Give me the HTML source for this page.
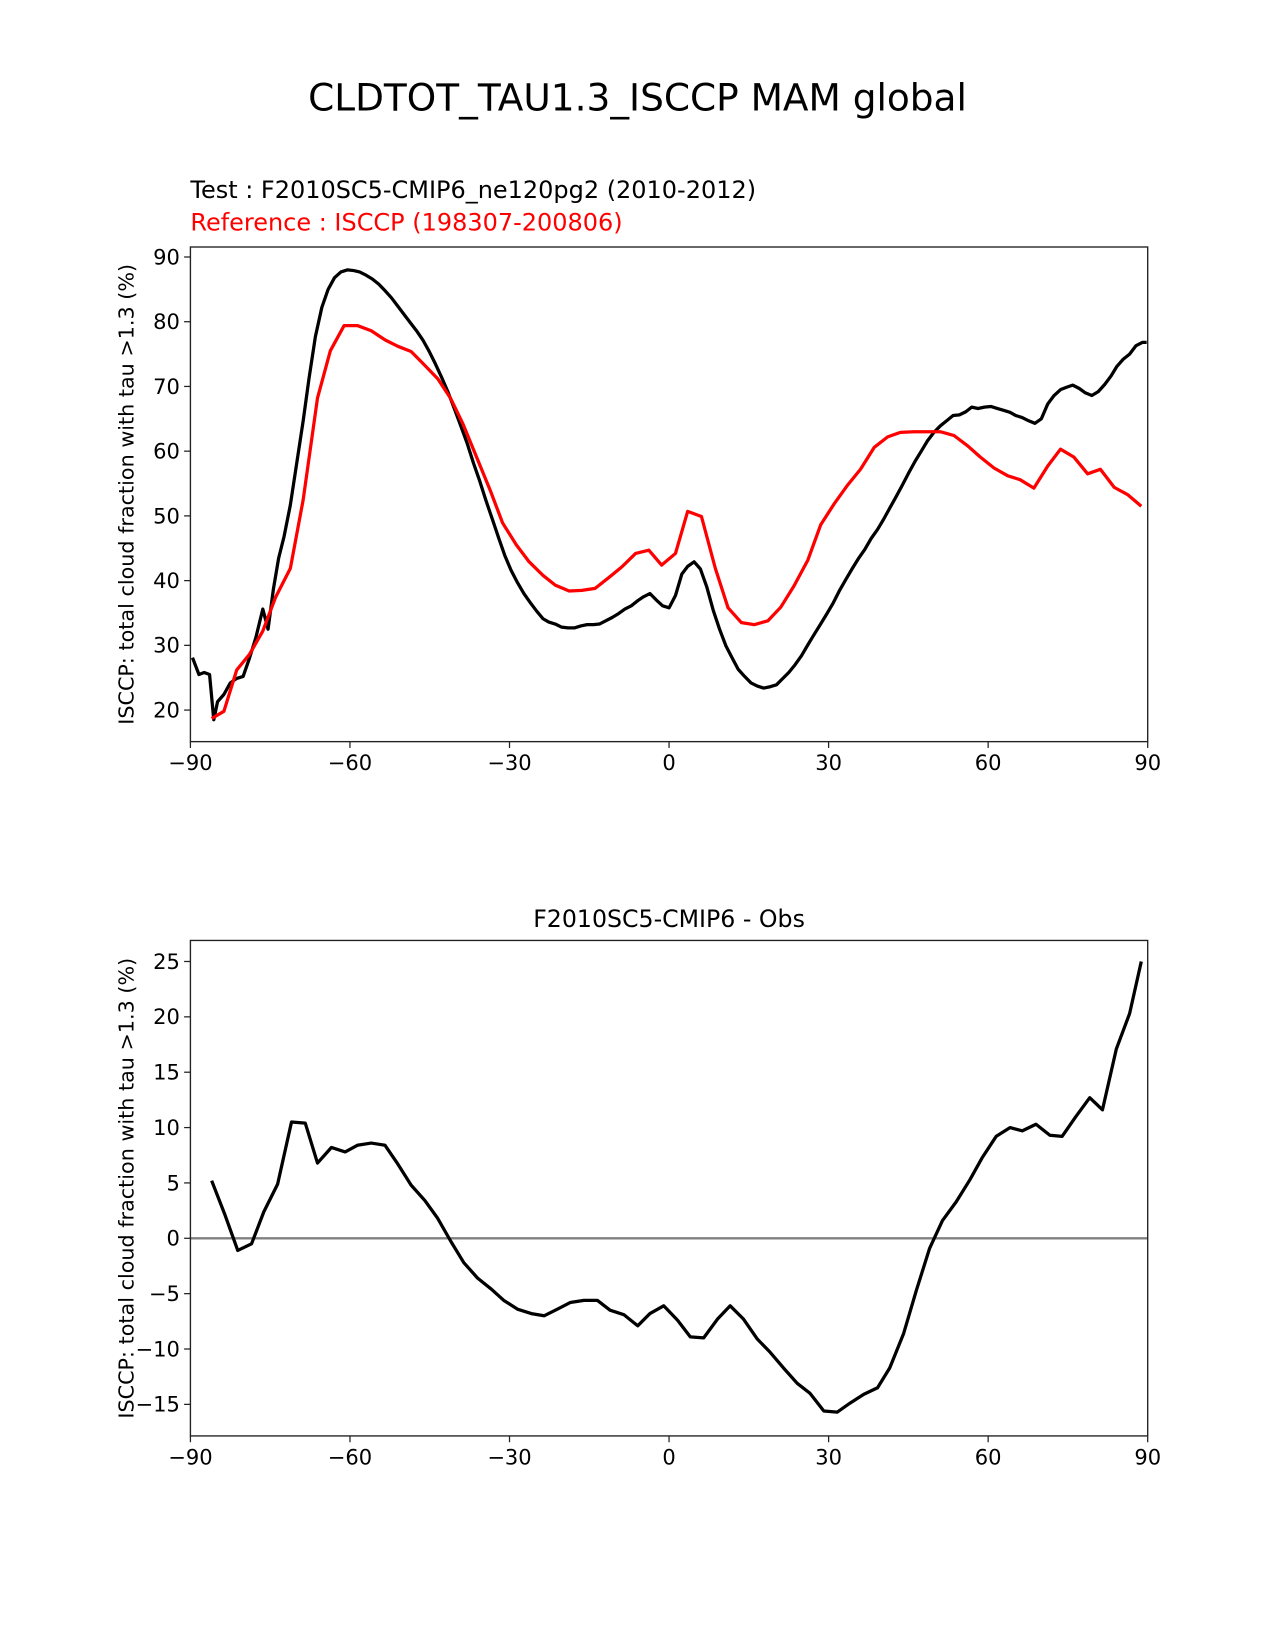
<!DOCTYPE html>
<html><head><meta charset="utf-8"><style>
html,body{margin:0;padding:0;background:#fff}
svg{display:block}
text{font-family:"DejaVu Sans","Liberation Sans",sans-serif}
</style></head><body>
<svg id="fig" xmlns="http://www.w3.org/2000/svg" width="1275" height="1650" viewBox="0 0 1212 1568.5">
<rect width="1212" height="1568.5" fill="#fff"/>
<text x="606" y="105" font-size="35.6" text-anchor="middle">CLDTOT_TAU1.3_ISCCP MAM global</text>
<text x="181" y="188" font-size="22.8">Test : F2010SC5-CMIP6_ne120pg2 (2010-2012)</text>
<text x="181" y="219" font-size="22.8" fill="#ff0000">Reference : ISCCP (198307-200806)</text>
<text x="636" y="881" font-size="22.5" text-anchor="middle">F2010SC5-CMIP6 - Obs</text>
<g id="top"></g>
<g id="bot"></g>
</svg>
<script>
const testLat=[-89.6,-88.4,-87.4,-86.4,-85.6,-84.9,-83.7,-82.5,-81.3,-80.1,-78.9,-77.7,-76.4,-75.4,-74.4,-73.4,-72.4,-71.2,-70,-68.8,-67.7,-66.5,-65.3,-64.1,-62.9,-61.7,-60.5,-59.3,-58.2,-57,-55.8,-54.6,-53.4,-52.2,-51,-49.8,-48.7,-47.5,-46.3,-45.1,-43.9,-42.7,-41.5,-40.4,-39.2,-38,-36.8,-35.6,-34.4,-33.2,-32,-30.9,-29.7,-28.5,-27.3,-26.1,-24.9,-23.7,-22.6,-21.4,-20.2,-19,-17.8,-16.6,-15.4,-14.2,-13.1,-11.9,-10.7,-9.5,-8.3,-7.1,-5.9,-4.8,-3.6,-2.4,-1.2,0,1.2,2.4,3.5,4.7,5.9,7.1,8.3,9.5,10.7,11.9,13,14.2,15.4,16.6,17.8,19,20.2,21.4,22.5,23.7,24.9,26.1,27.3,28.5,29.7,30.9,32,33.2,34.4,35.6,36.8,38,39.2,40.3,41.5,42.7,43.9,45.1,46.3,47.5,48.6,49.8,51,52.2,53.4,54.6,55.8,56.9,58.1,59.3,60.5,61.7,62.9,64.1,65.2,66.4,67.6,68.8,70,71.2,72.4,73.6,74.8,75.9,77.1,78.3,79.5,80.7,81.9,83.1,84.2,85.4,86.6,87.8,89,89.8];
const testVal=[28.1,25.5,25.8,25.5,18.5,21.3,22.4,24.2,24.9,25.2,28,31.2,35.6,32.5,38.7,43.5,46.8,51.7,58.2,64.7,71.2,77.7,82.2,85,86.8,87.7,88,87.9,87.7,87.2,86.6,85.8,84.8,83.7,82.4,81.1,79.9,78.6,77.2,75.4,73.4,71.3,69,66.6,64,61.3,58.2,55.4,52.3,49.4,46.5,43.9,41.6,39.7,38,36.6,35.3,34.1,33.6,33.3,32.8,32.7,32.7,33,33.2,33.2,33.3,33.8,34.3,34.9,35.6,36.1,36.9,37.5,38,37,36.1,35.8,37.7,41,42.2,42.9,41.8,39,35.4,32.5,29.9,28,26.3,25.2,24.2,23.7,23.4,23.6,23.9,24.9,25.8,27,28.4,30.1,31.7,33.3,34.9,36.6,38.4,40.1,41.8,43.4,44.8,46.5,47.9,49.4,51.2,53,54.8,56.7,58.5,60.1,61.6,62.9,63.9,64.7,65.5,65.6,66.1,66.8,66.6,66.8,66.9,66.6,66.3,66,65.5,65.2,64.7,64.3,65,67.3,68.6,69.5,69.9,70.2,69.7,69,68.6,69.2,70.3,71.6,73.1,74.2,75,76.3,76.8,76.8];
const refLat=[-86,-83.7,-81.3,-78.9,-76.4,-74,-71.2,-68.8,-66.1,-63.7,-61.1,-58.6,-56,-53.4,-51,-48.5,-46.1,-43.5,-41.1,-38.8,-36.2,-33.6,-31.3,-28.7,-26.3,-23.7,-21.4,-18.8,-16.4,-13.9,-11.3,-8.9,-6.3,-3.8,-1.4,1.2,3.5,6.1,8.7,11.1,13.6,16,18.6,21,23.5,26.1,28.5,31,33.6,36,38.6,41.1,43.5,46.1,48.6,51,53.6,56.2,58.5,61.1,63.7,66,68.6,71.2,73.6,76.1,78.7,81.1,83.7,86.2,88.8];
const refVal=[18.7,19.8,26.2,28.6,32.2,37.4,41.9,52.5,68.2,75.5,79.4,79.4,78.6,77.2,76.2,75.4,73.4,71.2,68.2,64.3,59.1,53.9,48.9,45.5,42.9,40.8,39.3,38.4,38.5,38.8,40.5,42.1,44.2,44.7,42.4,44.2,50.7,49.9,41.9,35.8,33.5,33.2,33.8,35.9,39.2,43.2,48.6,51.8,54.8,57.2,60.6,62.2,62.9,63,63,63,62.4,60.8,59.1,57.4,56.2,55.6,54.3,57.7,60.3,59.1,56.5,57.2,54.4,53.3,51.5];
const diffLat=[-86,-83.5,-81.1,-78.5,-76.2,-73.6,-71,-68.4,-66.1,-63.5,-60.9,-58.6,-56,-53.4,-51,-48.5,-45.9,-43.5,-41,-38.6,-36,-33.4,-31.1,-28.5,-25.9,-23.5,-21,-18.6,-16,-13.5,-11.1,-8.5,-5.9,-3.6,-1,1.6,4,6.5,9.1,11.5,14,16.6,19,21.5,24.1,26.5,29.1,31.6,34,36.6,39.2,41.5,44.1,46.5,49,51.4,54,56.6,58.9,61.5,64.1,66.4,69,71.6,73.9,76.5,79.1,81.5,84.1,86.6,88.8];
const diffVal=[5.2,2.1,-1.1,-0.5,2.4,4.9,10.5,10.4,6.8,8.2,7.8,8.4,8.6,8.4,6.7,4.8,3.4,1.8,-0.3,-2.2,-3.6,-4.6,-5.6,-6.4,-6.8,-7,-6.4,-5.8,-5.6,-5.6,-6.5,-6.9,-7.9,-6.8,-6.1,-7.4,-8.9,-9,-7.3,-6.1,-7.3,-9.1,-10.3,-11.7,-13.1,-14,-15.6,-15.7,-14.9,-14.1,-13.5,-11.7,-8.6,-4.7,-0.9,1.6,3.3,5.3,7.3,9.2,10,9.7,10.3,9.3,9.2,11,12.7,11.6,17.1,20.3,25];
const xTicks=[-90,-60,-30,0,30,60,90];
const xTickLabels=["\u221290","\u221260","\u221230","0","30","60","90"];
const topYTicks=[20,30,40,50,60,70,80,90];
const botYTicks=[-15,-10,-5,0,5,10,15,20,25];

const NS="http://www.w3.org/2000/svg";
function mk(parent,tag,attrs){const e=document.createElementNS(NS,tag);for(const k in attrs)e.setAttribute(k,attrs[k]);parent.appendChild(e);return e;}
const X0=181,X1=1091;
function xs(v){return X0+(v+90)/180*(X1-X0);}

function axes(g,top,bottom,yAt,yTicks,name){
  const f=v=>yAt(v);
  xTicks.forEach((t,i)=>{
    const l=mk(g,'line',{x1:xs(t),x2:xs(t),y1:bottom,y2:bottom+6,stroke:'#222','stroke-width':1.2});
    
    
    const tx=mk(g,'text',{x:xs(t),y:bottom+27,'font-size':20,'text-anchor':'middle'});
    tx.textContent=xTickLabels[i];
    
    
  });
  yTicks.forEach(t=>{
    const y=f(t);
    const l=mk(g,'line',{x1:X0-6,x2:X0,y1:y,y2:y,stroke:'#222','stroke-width':1.2});
    
    
    const tx=mk(g,'text',{x:X0-10,y:y+7,'font-size':20,'text-anchor':'end'});
    tx.textContent=t<0?'\u2212'+(-t):String(t);
    
    
  });
  const yl=mk(g,'text',{x:0,y:0,'font-size':19.7,'text-anchor':'middle',transform:`translate(127,${(top+bottom)/2}) rotate(-90)`});
  yl.textContent='ISCCP: total cloud fraction with tau >1.3 (%)';
  
  
}
function frame(g,top,bottom,name){
  const r=mk(g,'rect',{x:X0,y:top,width:X1-X0,height:bottom-top,fill:'none',stroke:'#222','stroke-width':1.3});
  
  
}
function line(g,lat,val,yAt,color,name){
  const d=lat.map((v,i)=>(i?'L':'M')+xs(v).toFixed(1)+' '+yAt(val[i]).toFixed(1)).join('');
  const p=mk(g,'path',{d:d,fill:'none',stroke:color,'stroke-width':3.1,'stroke-linejoin':'round'});
  
  
}

const gt=document.getElementById('top');
const tTop=234.8,tBot=705;
const yTop=v=>675-(v-20)/70*(675-244.3);
axes(gt,tTop,tBot,yTop,topYTicks,'top');
const cpT=mk(gt,'clipPath',{id:'cpT'});mk(cpT,'rect',{x:X0,y:tTop,width:X1-X0,height:tBot-tTop});
const gtc=mk(gt,'g',{'clip-path':'url(#cpT)'});
line(gtc,testLat,testVal,yTop,'#000','test-line');
line(gtc,refLat,refVal,yTop,'#ff0000','reference-line');
frame(gt,tTop,tBot,'top');

const gb=document.getElementById('bot');
const bTop=894,bBot=1365;
const yBot=v=>1335-(v+15)/40*(1335-914);
axes(gb,bTop,bBot,yBot,botYTicks,'bottom');
const z=mk(gb,'line',{x1:X0,x2:X1,y1:yBot(0),y2:yBot(0),stroke:'#808080','stroke-width':2.2});


line(gb,diffLat,diffVal,yBot,'#000','difference-line');
frame(gb,bTop,bBot,'bottom');
</script>
</body></html>
